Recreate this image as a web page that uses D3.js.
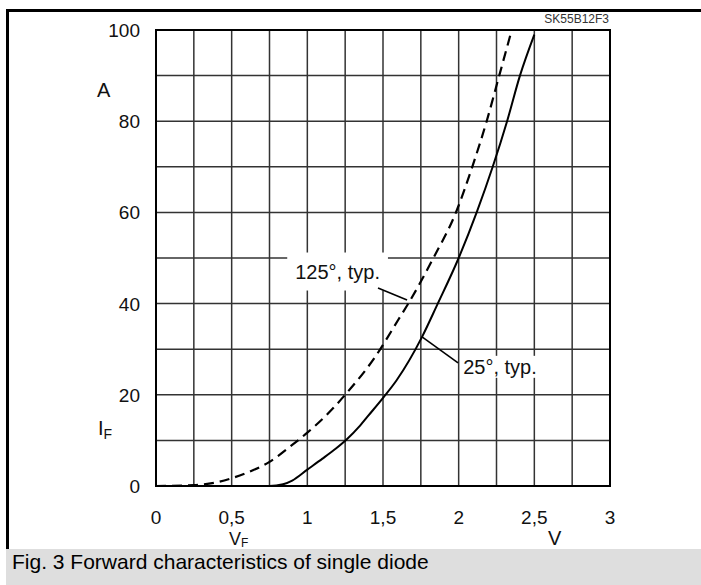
<!DOCTYPE html>
<html>
<head>
<meta charset="utf-8">
<script src="https://cdn.jsdelivr.net/npm/d3@7"></script>
<style>
  html, body { margin: 0; padding: 0; background: #fff; }
  svg { display: block; font-family: "Liberation Sans", Arial, Helvetica, sans-serif; }
</style>
</head>
<body>
<svg id="chart" width="701" height="585"></svg>
<script>
// ---- data ----
const xTicks = [0, 0.5, 1, 1.5, 2, 2.5, 3];
const xTickLabels = ["0", "0,5", "1", "1,5", "2", "2,5", "3"];
const yTicks = [0, 20, 40, 60, 80, 100];
const yTickLabels = ["0", "20", "40", "60", "80", "100"];
const xGrid = [0.25, 0.5, 0.75, 1, 1.25, 1.5, 1.75, 2, 2.25, 2.5, 2.75];
const yGrid = [10, 20, 30, 40, 50, 60, 70, 80, 90];

// 25 °C typical (solid)
const vf25 = [0, 0.5, 0.75, 0.84, 0.9, 1.0, 1.1, 1.18, 1.256, 1.35, 1.4, 1.507, 1.59, 1.758, 1.855, 2.0, 2.119, 2.225, 2.32, 2.405, 2.5];
const if25 = [0, 0, 0, 0.4, 1.2, 3.6, 6.0, 8.0, 10.1, 13.3, 15.3, 19.6, 23.2, 32.7, 39.5, 50, 60, 70, 80, 90, 99];
// 125 °C typical (dashed)
const vf125 = [0, 0.25, 0.4, 0.5, 0.6, 0.75, 0.9, 1.0, 1.125, 1.25, 1.45, 1.6, 1.667, 1.833, 1.982, 2.09, 2.185, 2.268, 2.345];
const if125 = [0, 0.2, 0.8, 1.7, 2.9, 5.3, 9, 11.7, 15.5, 20, 28.4, 36.4, 40, 50, 60, 70, 80, 90, 99.3];

const seriesLabels = ["125°, typ.", "25°, typ."];
const captionText = "Fig. 3 Forward characteristics of single diode";
const figId = "SK55B12F3";

// ---- layout ----
const svg = d3.select("#chart");
const x = d3.scaleLinear().domain([0, 3]).range([156, 610]);
const y = d3.scaleLinear().domain([0, 100]).range([486, 30]);

// outer frame (top + left) and caption bar
svg.append("rect").attr("x", 6).attr("y", 9).attr("width", 695).attr("height", 3).attr("fill", "#000");
svg.append("rect").attr("x", 6).attr("y", 9).attr("width", 3).attr("height", 540).attr("fill", "#000");
svg.append("rect").attr("x", 6).attr("y", 549).attr("width", 695).attr("height", 36).attr("fill", "#dedede");
svg.append("text").attr("x", 12).attr("y", 569).attr("font-size", 21).attr("fill", "#000").text(captionText);

svg.append("text").attr("x", 609).attr("y", 23).attr("text-anchor", "end")
  .attr("font-size", 12).attr("fill", "#333").text(figId);

// grid
const g = svg.append("g");
g.selectAll(".vg").data(xGrid).join("line")
  .attr("x1", d => x(d)).attr("x2", d => x(d)).attr("y1", y(0)).attr("y2", y(100))
  .attr("stroke", "#333").attr("stroke-width", 1.5);
g.selectAll(".hg").data(yGrid).join("line")
  .attr("x1", x(0)).attr("x2", x(3)).attr("y1", d => y(d)).attr("y2", d => y(d))
  .attr("stroke", "#333").attr("stroke-width", 1.5);

// annotation labels with white backgrounds
const annots = [
  { text: seriesLabels[0], tv: 0.92, ti: 45.5, from: [1.467, 43.4], to: [1.659, 40.8], padX: 8, padY: 8 },
  { text: seriesLabels[1], tv: 2.03, ti: 24.6, from: [1.758, 32.7], to: [1.996, 27.0], padX: 2, padY: 0 }
];
const annG = svg.append("g");
annots.forEach(a => {
  const t = annG.append("text").attr("x", x(a.tv)).attr("y", y(a.ti))
    .attr("font-size", 20).attr("fill", "#111").text(a.text);
  const bb = t.node().getBBox();
  annG.insert("rect", "text")
    .attr("x", bb.x - a.padX).attr("y", bb.y - a.padY)
    .attr("width", bb.width + 2 * a.padX).attr("height", bb.height + 2 * a.padY)
    .attr("fill", "#fff");
});

// curves
const line = d3.line().x(d => x(d[0])).y(d => y(d[1])).curve(d3.curveMonotoneX);
svg.append("path").datum(d3.zip(vf25, if25)).attr("d", line)
  .attr("fill", "none").attr("stroke", "#000").attr("stroke-width", 2);
svg.append("path").datum(d3.zip(vf125, if125)).attr("d", line)
  .attr("fill", "none").attr("stroke", "#000").attr("stroke-width", 2.2)
  .attr("stroke-dasharray", "10,6");

// leader lines
annots.forEach(a => {
  svg.append("line")
    .attr("x1", x(a.from[0])).attr("y1", y(a.from[1]))
    .attr("x2", x(a.to[0])).attr("y2", y(a.to[1]))
    .attr("stroke", "#000").attr("stroke-width", 1.6);
});

// plot border
svg.append("rect").attr("x", x(0)).attr("y", y(100))
  .attr("width", x(3) - x(0)).attr("height", y(0) - y(100))
  .attr("fill", "none").attr("stroke", "#000").attr("stroke-width", 2);

// axis tick labels
svg.selectAll(".xt").data(xTicks).join("text")
  .attr("x", d => x(d)).attr("y", 524).attr("text-anchor", "middle")
  .attr("font-size", 19).attr("fill", "#111").text((d, i) => xTickLabels[i]);
svg.selectAll(".yt").data(yTicks).join("text")
  .attr("x", 140).attr("y", d => y(d) + 7).attr("text-anchor", "end")
  .attr("font-size", 19).attr("fill", "#111").text((d, i) => yTickLabels[i]);

// axis titles
svg.append("text").attr("x", 97).attr("y", 97).attr("font-size", 20).attr("fill", "#111").text("A");
svg.append("text").attr("x", 548).attr("y", 545).attr("font-size", 20).attr("fill", "#111").text("V");
const ifT = svg.append("text").attr("x", 98).attr("y", 435).attr("font-size", 20).attr("fill", "#111");
ifT.append("tspan").text("I");
ifT.append("tspan").attr("font-size", 14).attr("dy", 4).text("F");
const vfT = svg.append("text").attr("x", 229).attr("y", 545).attr("font-size", 18).attr("fill", "#111");
vfT.append("tspan").text("V");
vfT.append("tspan").attr("font-size", 12).attr("dy", 2).text("F");
</script>
</body>
</html>
